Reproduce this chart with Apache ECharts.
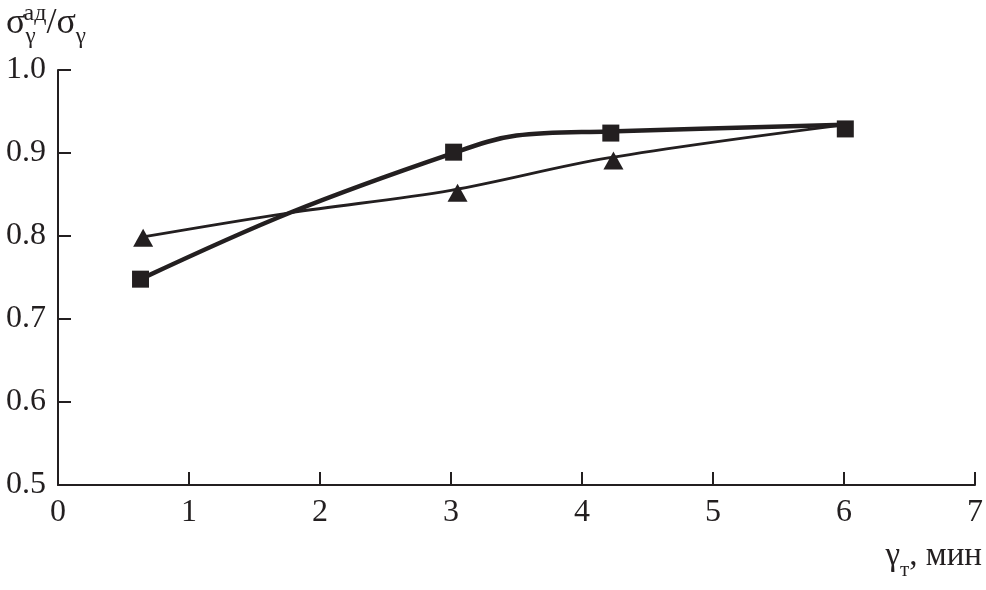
<!DOCTYPE html>
<html><head><meta charset="utf-8">
<script src="https://cdn.jsdelivr.net/npm/echarts@6/dist/echarts.min.js"></script>
<style>html,body{margin:0;padding:0;background:#fff}#c{width:986px;height:590px}</style>
</head><body><div id="c"></div>
<script>
const xTicks = [0,1,2,3,4,5,6,7];
const yTicks = [0.5,0.6,0.7,0.8,0.9,1.0];
const squarePts = [[0.63,0.748],[3.02,0.901],[4.22,0.924],[6.01,0.929]];
const trianglePts = [[0.65,0.798],[3.05,0.852],[4.24,0.891]];
const squareCurve = [[0.63,0.748],[1.77,0.828],[3.0,0.899],[3.5,0.921],[4.2,0.926],[6.0,0.934]];
const triangleCurve = [[0.65,0.799],[1.77,0.828],[3.0,0.855],[4.2,0.894],[6.0,0.934]];
const C = '#231f20';
const chart = echarts.init(document.getElementById('c'));
const font = 'Liberation Serif';
chart.setOption({
  animation:false,
  grid:{left:58,right:11,top:70,bottom:105},
  xAxis:{type:'value',min:0,max:7,interval:1,
    axisLine:{lineStyle:{color:C,width:2}},
    axisTick:{inside:true,length:13,lineStyle:{color:C,width:2}},
    axisLabel:{color:C,fontFamily:font,fontSize:32,margin:12},
    splitLine:{show:false}},
  yAxis:{type:'value',min:0.5,max:1.0,interval:0.1,
    axisLine:{show:true,lineStyle:{color:C,width:2}},
    axisTick:{show:true,inside:true,length:13,lineStyle:{color:C,width:2}},
    axisLabel:{color:C,fontFamily:font,fontSize:32,margin:12,formatter:v=>v.toFixed(1)},
    splitLine:{show:false}},
  series:[
    {type:'line',data:squareCurve,smooth:0.35,symbol:'none',lineStyle:{color:C,width:4.5},z:2},
    {type:'line',data:triangleCurve,smooth:0.35,symbol:'none',lineStyle:{color:C,width:2.8},z:2},
    {type:'scatter',data:squarePts,symbol:'rect',symbolSize:17,itemStyle:{color:C,opacity:1},z:3},
    {type:'scatter',data:trianglePts,symbol:'triangle',symbolSize:[20,18],itemStyle:{color:C,opacity:1},z:3}
  ],
  graphic:[
    {type:'text',left:6,top:2,style:{
      text:'{m|σ}{sub|γ}{sup|ад}{m|/σ}{sub|γ}',
      rich:{
        m:{fontFamily:font,fontSize:36,fill:C,verticalAlign:'bottom',lineHeight:40},
        sub:{fontFamily:font,fontSize:23,fill:C,verticalAlign:'bottom',padding:[0,0,-6,0],lineHeight:40},
        sup:{fontFamily:font,fontSize:24,fill:C,verticalAlign:'top',padding:[0,0,20,-12],lineHeight:40}
      }}},
    {type:'text',right:4,top:540,style:{
      text:'{m|γ}{sub|т}{m|, мин}',
      rich:{
        m:{fontFamily:font,fontSize:33,fill:C,lineHeight:40},
        sub:{fontFamily:font,fontSize:21,fill:C,verticalAlign:'bottom',padding:[0,0,-4,0],lineHeight:40}
      }}}
  ]
});
</script></body></html>
